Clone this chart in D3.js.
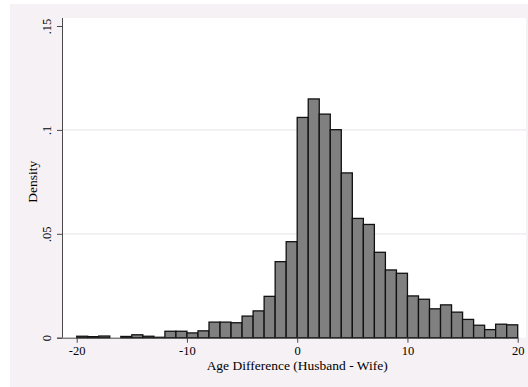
<!DOCTYPE html>
<html>
<head>
<meta charset="utf-8">
<script src="https://cdn.jsdelivr.net/npm/d3@7"></script>
<style>
  html, body { margin: 0; padding: 0; background: #ffffff; }
  svg { display: block; }
</style>
</head>
<body>
<script>
// Histogram bins (left edge, width 1) and density values
const binStarts = [-20,-19,-18,-17,-16,-15,-14,-13,-12,-11,-10,-9,-8,-7,-6,-5,-4,-3,-2,-1,
                   0,1,2,3,4,5,6,7,8,9,10,11,12,13,14,15,16,17,18,19];
const densities = [0.0007,0.0005,0.0008,0.0000,0.0006,0.0014,0.0007,0.0002,0.0031,0.0031,
                   0.0023,0.0033,0.0075,0.0075,0.0072,0.0104,0.0129,0.0199,0.0366,0.0462,
                   0.1060,0.1149,0.1076,0.1001,0.0793,0.0574,0.0545,0.0411,0.0326,0.0310,
                   0.0201,0.0185,0.0139,0.0158,0.0123,0.0088,0.0060,0.0039,0.0065,0.0062];
const binWidth = 1;
const xTicks = [-20, -10, 0, 10, 20];
const xTickLabels = ["-20", "-10", "0", "10", "20"];
const yTicks = [0, 0.05, 0.1, 0.15];
const yTickLabels = ["0", ".05", ".1", ".15"];
const yGrid = [0.05, 0.1];
const xTitle = "Age Difference (Husband - Wife)";
const yTitle = "Density";

const W = 528, H = 387;
const svg = d3.select("body").append("svg").attr("width", W).attr("height", H);

// outer background
svg.append("rect").attr("x", 10).attr("y", 4).attr("width", W - 10).attr("height", H - 4)
  .attr("fill", "#f5f1f5");
// plot region
const plot = {left: 62, top: 18, right: 526, bottom: 337.7};
svg.append("rect").attr("x", plot.left).attr("y", plot.top)
  .attr("width", plot.right - plot.left).attr("height", plot.bottom - plot.top)
  .attr("fill", "#ffffff");

const x = d3.scaleLinear().domain([-20, 20]).range([76.7, 517.7]);
const y = d3.scaleLinear().domain([0, 0.15]).range([337.7, 26]);

// gridlines
svg.append("g").selectAll("line").data(yGrid).join("line")
  .attr("x1", plot.left).attr("x2", plot.right)
  .attr("y1", d => y(d)).attr("y2", d => y(d))
  .attr("stroke", "#ebe8ed").attr("stroke-width", 1.2);

// bars
const bins = binStarts.map((b, i) => ({x0: b, x1: b + binWidth, v: densities[i]}));
svg.append("g").selectAll("rect").data(bins.filter(d => d.v > 0)).join("rect")
  .attr("x", d => x(d.x0))
  .attr("y", d => y(d.v))
  .attr("width", d => x(d.x1) - x(d.x0))
  .attr("height", d => y(0) - y(d.v))
  .attr("fill", "#808080")
  .attr("stroke", "#111111")
  .attr("stroke-width", 1.3);

// x axis
const xAxis = d3.axisBottom(x).tickValues(xTicks).tickSize(5)
  .tickFormat((d, i) => xTickLabels[i]);
const gx = svg.append("g").attr("transform", `translate(0,${y(0)})`).call(xAxis);
gx.select(".domain").attr("d", `M${57},0.5H${plot.right - 8}`).attr("stroke", "#4a4a4a");
gx.selectAll(".tick line").attr("stroke", "#4a4a4a");
gx.selectAll(".tick text").attr("font-family", "'Liberation Serif', 'Times New Roman', serif")
  .attr("font-size", 12.5).attr("fill", "#000").attr("dy", "0.85em").attr("y", 7);

// y axis
const yAxis = d3.axisLeft(y).tickValues(yTicks).tickSize(5)
  .tickFormat((d, i) => yTickLabels[i]);
const gy = svg.append("g").attr("transform", `translate(${plot.left},0)`).call(yAxis);
gy.select(".domain").attr("d", `M0.5,${y(0)}V${plot.top}`).attr("stroke", "#4a4a4a");
gy.selectAll(".tick line").attr("stroke", "#4a4a4a");
gy.selectAll(".tick text").attr("font-family", "'Liberation Serif', 'Times New Roman', serif")
  .attr("font-size", 12.5).attr("fill", "#000")
  .attr("x", null).attr("dy", null)
  .attr("transform", "translate(-11.5,0) rotate(-90)")
  .attr("text-anchor", "middle");

// axis titles
svg.append("text").attr("x", (x(-20) + x(20)) / 2).attr("y", 370)
  .attr("text-anchor", "middle")
  .attr("font-family", "'Liberation Serif', 'Times New Roman', serif")
  .attr("font-size", 13.5).attr("fill", "#000").text(xTitle);
svg.append("text")
  .attr("transform", `translate(37,${(y(0) + y(0.15)) / 2}) rotate(-90)`)
  .attr("text-anchor", "middle")
  .attr("font-family", "'Liberation Serif', 'Times New Roman', serif")
  .attr("font-size", 13.5).attr("fill", "#000").text(yTitle);
</script>
</body>
</html>
